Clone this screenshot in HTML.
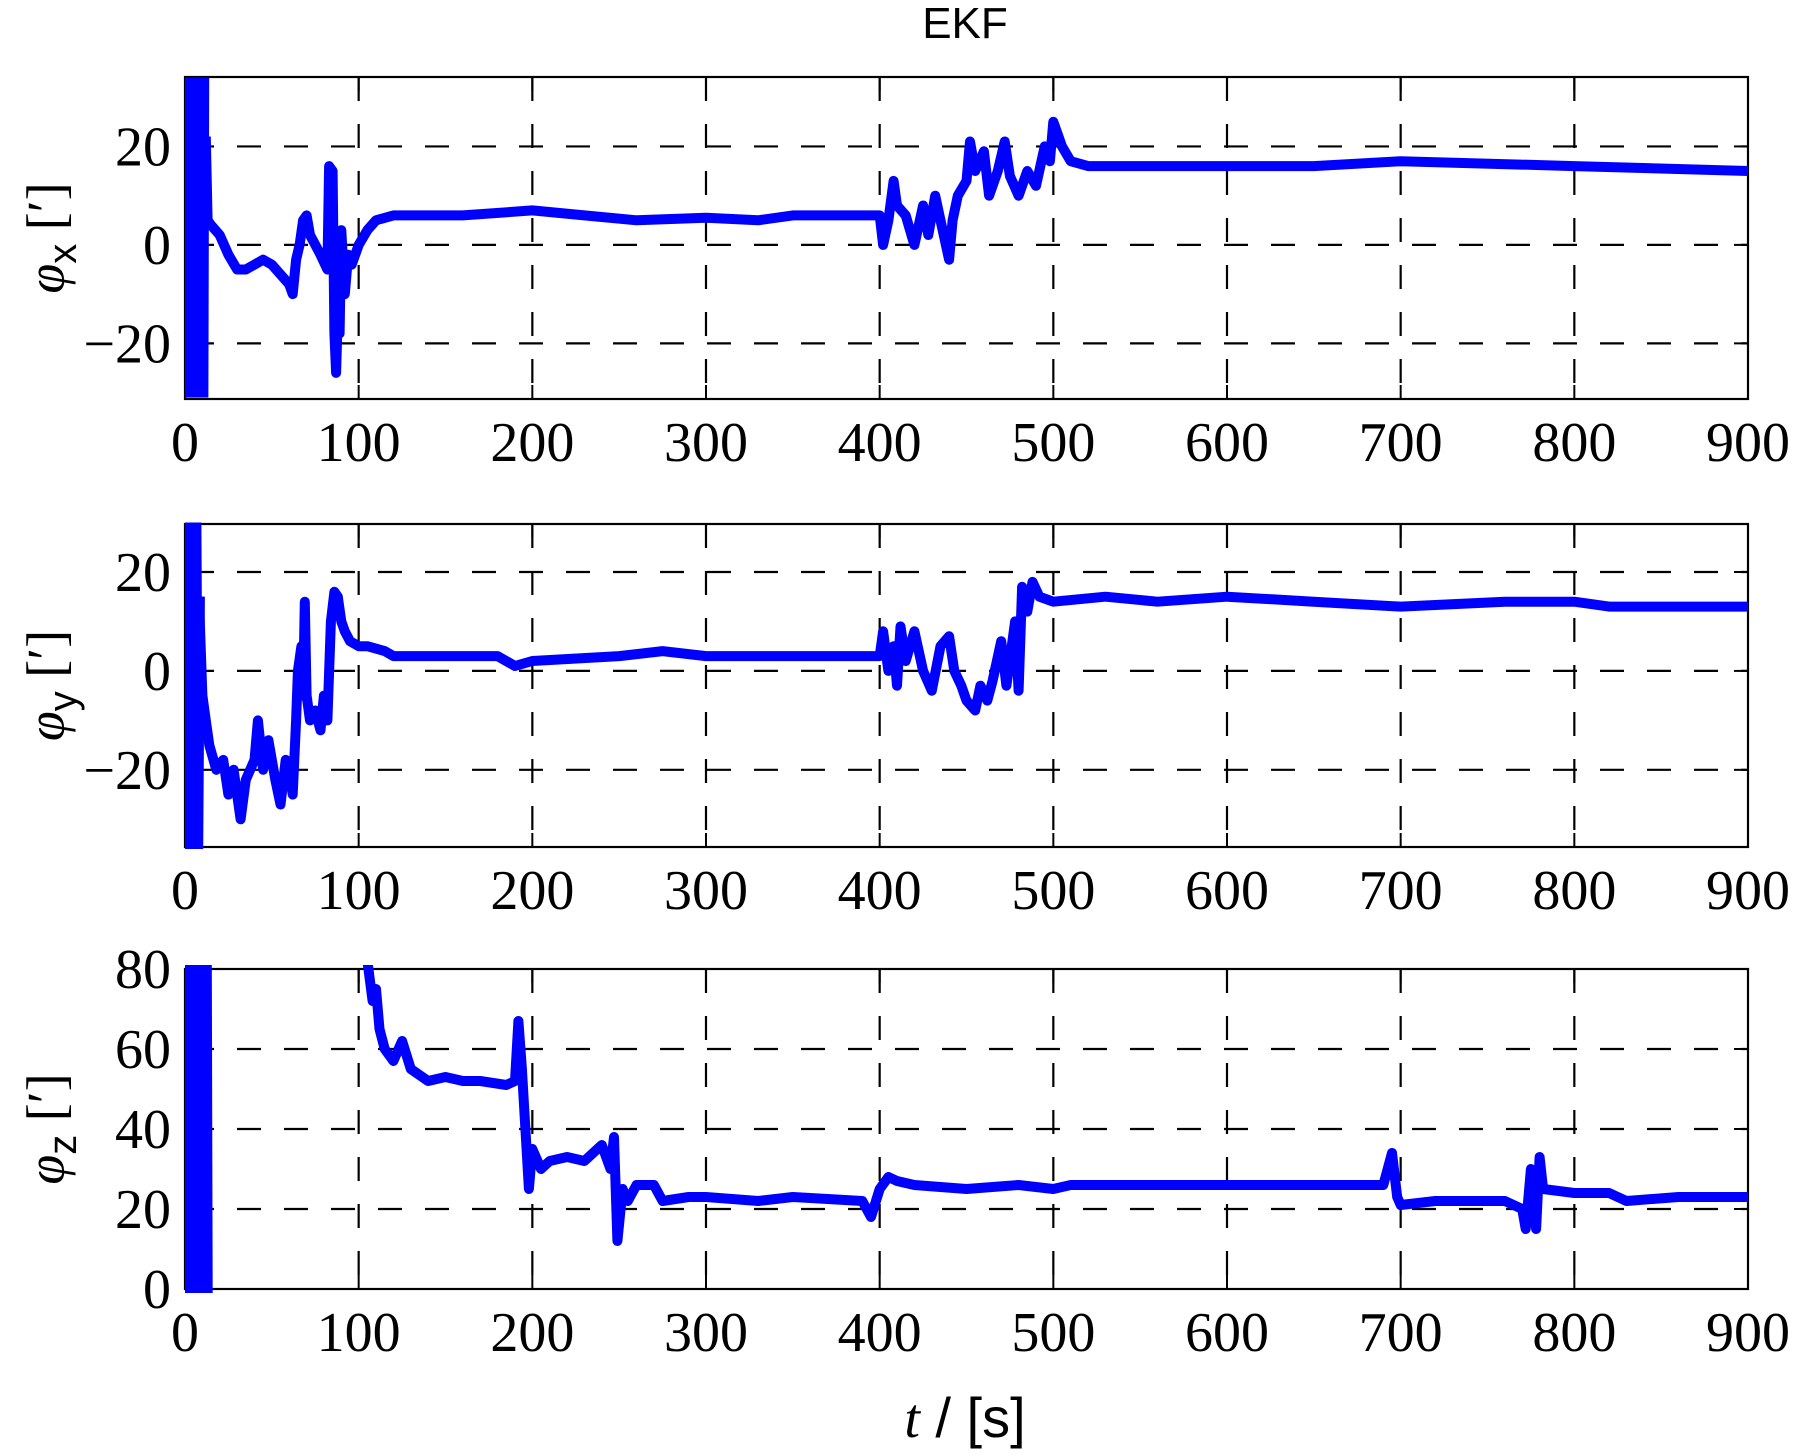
<!DOCTYPE html>
<html><head><meta charset="utf-8"><style>
html,body{margin:0;padding:0;background:#fff;}
svg{display:block;}
text{font-family:"Liberation Serif",serif;}
</style></head><body>
<svg id="fig" width="1796" height="1455" viewBox="0 0 1796 1455" xmlns="http://www.w3.org/2000/svg">
<text x="965" y="38" text-anchor="middle" font-size="44" style="font-family:'Liberation Sans',sans-serif">EKF</text>
<text x="965" y="1437" text-anchor="middle" font-size="56" style="font-family:'Liberation Sans',sans-serif"><tspan font-style="italic" style="font-family:'Liberation Serif',serif">t</tspan> / [s]</text>
</svg>
<script>
const xTicks=[0,100,200,300,400,500,600,700,800,900];
const phiXTicks=[-20,0,20];
const phiYTicks=[-20,0,20];
const phiZTicks=[0,20,40,60,80];
const bandX=[[0,34],[1.5,-31],[3,34],[4.5,-31],[6,34],[7.5,-31],[9,34],[10,-31],[10.5,34]];
const phiX=[[12,22],[13,5],[15,4],[20,2],[25,-2],[30,-5],[35,-5],[40,-4],[45,-3],[50,-4],[55,-6],[60,-8],[62,-10],[64,-3],[66,0],[68,5],[70,6],[72,2],[75,0],[78,-2],[82,-5],[83,16],[85,15],[86,-18],[87,-26],[88,-14],[89,-18],[90,3],[92,-10],[94,-2],[96,-4],[100,0],[105,3],[110,5],[120,6],[140,6],[160,6],[200,7],[230,6],[260,5],[300,5.5],[330,5],[350,6],[400,6],[402,0],[405,5],[408,13],[410,8],[415,6],[420,0],[425,8],[428,2],[432,10],[435,5],[440,-3],[442,5],[445,10],[450,13],[452,21],[455,15],[460,19],[463,10],[468,15],[472,21],[475,14],[480,10],[485,15],[490,12],[495,20],[498,17],[500,25],[505,20],[510,17],[520,16],[600,16],[650,16],[700,17],[800,16],[900,15]];
const bandY=[[0,30],[1.5,-36],[3,30],[4.5,-36],[6,30],[7,-36],[8,15]];
const phiY=[[8,15],[10,-5],[12,-10],[14,-15],[18,-20],[22,-18],[25,-25],[28,-20],[32,-30],[35,-22],[40,-18],[42,-10],[45,-20],[48,-14],[52,-22],[55,-27],[58,-18],[60,-20],[62,-25],[64,-10],[65,0],[67,5],[68,-5],[69,14],[70,-5],[72,-10],[75,-8],[78,-12],[80,-5],[82,-10],[84,10],[86,16],[88,15],[90,10],[92,8],[95,6],[100,5],[105,5],[115,4],[120,3],[150,3],[180,3],[190,1],[200,2],[250,3],[275,4],[300,3],[350,3],[395,3],[400,3],[402,8],[405,0],[408,5],[410,-3],[412,9],[415,2],[420,8],[425,0],[430,-4],[435,5],[440,7],[443,0],[447,-3],[450,-6],[455,-8],[458,-3],[462,-6],[465,-2],[470,6],[473,-3],[478,10],[480,-4],[482,17],[485,12],[488,18],[492,15],[500,14],[530,15],[560,14],[600,15],[650,14],[700,13],[760,14],[800,14],[820,13],[900,13]];
const bandZ=[[0,82],[1.5,-2],[3,82],[4.5,-2],[6,82],[7.5,-2],[9,82],[10.5,-2],[12,82],[12.5,-2]];
const phiZ=[[105,82],[108,72],[110,75],[112,65],[115,60],[120,57],[125,62],[130,55],[140,52],[150,53],[160,52],[170,52],[185,51],[190,52],[192,67],[194,55],[196,40],[198,25],[200,35],[205,30],[210,32],[220,33],[230,32],[240,36],[245,30],[247,38],[249,12],[252,25],[255,22],[260,26],[270,26],[275,22],[290,23],[300,23],[330,22],[350,23],[390,22],[395,18],[400,25],[405,28],[410,27],[420,26],[450,25],[480,26],[500,25],[510,26],[550,26],[600,26],[690,26],[695,34],[698,23],[700,21],[720,22],[760,22],[770,20],[772,15],[775,30],[778,15],[780,33],[782,25],[800,24],[820,24],[830,22],[860,23],[900,23]];

const NS="http://www.w3.org/2000/svg";
const svg=document.getElementById('fig');
const X0=185,X1=1748,XMIN=0,XMAX=900;
function xs(t){return X0+(t-XMIN)/(XMAX-XMIN)*(X1-X0);}
function mk(tag,attrs,parent){const e=document.createElementNS(NS,tag);for(const k in attrs)e.setAttribute(k,attrs[k]);(parent||svg).appendChild(e);return e;}

const panels=[
 {name:'phi-x',top:77,bot:399,ymin:-31.3,ymax:34.1,ticks:phiXTicks,band:bandX,data:phiX,sub:'x'},
 {name:'phi-y',top:524,bot:847,ymin:-35.6,ymax:29.7,ticks:phiYTicks,band:bandY,data:phiY,sub:'y'},
 {name:'phi-z',top:969,bot:1289,ymin:0,ymax:80,ticks:phiZTicks,band:bandZ,data:phiZ,sub:'z'}
];
panels.forEach((p,i)=>{
 const ys=v=>p.bot-(v-p.ymin)/(p.ymax-p.ymin)*(p.bot-p.top);
 const g=mk('g',{});
 
 
 const cp=mk('clipPath',{id:'cp'+i},g);
 mk('rect',{x:X0,y:p.top-4,width:X1-X0,height:p.bot-p.top+8},cp);
 xTicks.forEach(t=>{
  if(t===XMIN||t===XMAX)return;
  const l=mk('line',{x1:xs(t),x2:xs(t),y1:p.top,y2:p.bot,stroke:'#000','stroke-width':2.2,'stroke-dasharray':'24 23'},g);
  
  
 });
 p.ticks.forEach(v=>{
  if(Math.abs(ys(v)-p.top)<2||Math.abs(ys(v)-p.bot)<2)return;
  const l=mk('line',{x1:X0,x2:X1,y1:ys(v),y2:ys(v),stroke:'#000','stroke-width':2.2,'stroke-dasharray':'24 23','stroke-dashoffset':-5},g);
  
  
 });
 xTicks.forEach(t=>{
  mk('line',{x1:xs(t),x2:xs(t),y1:p.bot,y2:p.bot-14,stroke:'#000','stroke-width':2},g);
  mk('line',{x1:xs(t),x2:xs(t),y1:p.top,y2:p.top+14,stroke:'#000','stroke-width':2},g);
 });
 p.ticks.forEach(v=>{
  mk('line',{x1:X0,x2:X0+14,y1:ys(v),y2:ys(v),stroke:'#000','stroke-width':2},g);
  mk('line',{x1:X1,x2:X1-14,y1:ys(v),y2:ys(v),stroke:'#000','stroke-width':2},g);
 });
 const fr=mk('rect',{x:X0,y:p.top,width:X1-X0,height:p.bot-p.top,fill:'none',stroke:'#000','stroke-width':2.2},g);
 
 
 const toPts=arr=>arr.map(d=>xs(d[0]).toFixed(1)+','+ys(d[1]).toFixed(1)).join(' ');
 const band=mk('polyline',{points:toPts(p.band),fill:'none',stroke:'#0000ff','stroke-width':12,'stroke-linejoin':'miter','clip-path':'url(#cp'+i+')'},g);
 
 
 const ln=mk('polyline',{points:toPts(p.data),fill:'none',stroke:'#0000ff','stroke-width':10,'stroke-linejoin':'round','clip-path':'url(#cp'+i+')'},g);
 
 
 xTicks.forEach(t=>{
  const tx=mk('text',{x:xs(t),y:p.bot+62,'text-anchor':'middle','font-size':56},g);
  tx.textContent=String(t);
  
  
 });
 p.ticks.forEach(v=>{
  const tx=mk('text',{x:X0-14,y:ys(v)+19,'text-anchor':'end','font-size':56},g);
  tx.textContent=(v<0?'\u2212':'')+Math.abs(v);
  
  
 });
 const cy=(p.top+p.bot)/2;
 const yl=mk('text',{x:0,y:0,'text-anchor':'middle','font-size':54,transform:'translate(64,'+cy+') rotate(-90)'},g);
 
 
 const a=mk('tspan',{'font-style':'italic'},yl);a.textContent='\u03C6';
 const b=mk('tspan',{dy:12,'font-size':40,style:"font-family:'Liberation Sans',sans-serif"},yl);b.textContent=p.sub;
 const c=mk('tspan',{dy:-12},yl);c.textContent=' [\u2032]';
});
</script>
</body></html>
